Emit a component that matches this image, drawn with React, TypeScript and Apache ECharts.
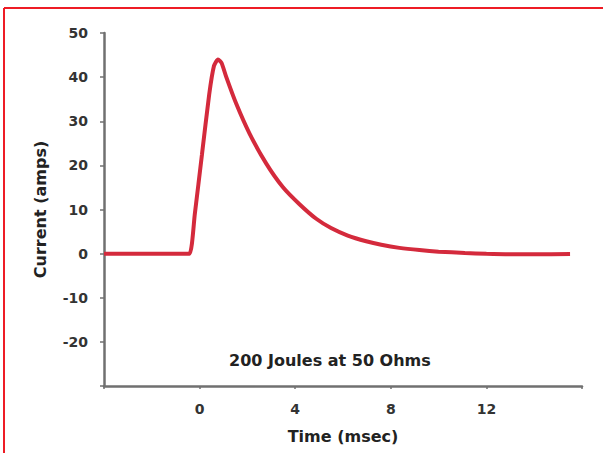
import React, { useEffect, useRef } from "react";
import * as echarts from "echarts";

const timeMs: number[] = [-4, -1.5, -0.8, -0.42, -0.2, 0.1, 0.4, 0.6, 0.77, 0.92, 1.11, 1.53, 2.09, 2.79, 3.48, 4.18, 4.88, 5.5, 6.2, 6.97, 7.6, 8.36, 9.2, 10, 11.1, 12, 13, 14, 15.5];
const currentAmps: number[] = [0, 0, 0, 0, 9, 22.5, 36, 42.5, 44, 43.2, 40.1, 34, 27.2, 20.4, 15.1, 11.2, 7.9, 5.8, 4.1, 2.8, 2.0, 1.3, 0.8, 0.45, 0.15, -0.05, -0.15, -0.15, -0.1];
const xHiddenLabels: number[] = [-4, 16];
const yHiddenLabels: number[] = [-30];
const annotation = "200 Joules at 50 Ohms";
const xName = "Time (msec)";
const yName = "Current (amps)";

export default function App() {
  const ref = useRef<HTMLDivElement>(null);
  useEffect(() => {
    document.body.style.margin = "0";
    if (!ref.current) return;
    const chart = echarts.init(ref.current, null, { renderer: "svg" });
    const font = "'DejaVu Sans', sans-serif";
    const axisColor = "#707070";
    chart.setOption({
      animation: false,
      backgroundColor: "#ffffff",
      grid: { left: 104, right: 21, top: 33, bottom: 67 },
      xAxis: {
        type: "value",
        min: -4,
        max: 16,
        interval: 4,
        name: xName,
        nameLocation: "middle",
        nameGap: 42,
        nameTextStyle: { fontFamily: font, fontWeight: "bold", fontSize: 16, color: "#222" },
        axisLine: { onZero: false, lineStyle: { color: axisColor, width: 2.5 } },
        axisTick: { show: true, length: 3, lineStyle: { color: axisColor, width: 1.5 } },
        splitLine: { show: false },
        axisLabel: {
          fontFamily: font,
          fontWeight: "bold",
          fontSize: 14,
          color: "#333",
          margin: 16,
          formatter: (v: number) => (xHiddenLabels.includes(v) ? "" : String(v)),
        },
      },
      yAxis: {
        type: "value",
        min: -30,
        max: 50,
        interval: 10,
        name: yName,
        nameLocation: "middle",
        nameGap: 56,
        nameTextStyle: { fontFamily: font, fontWeight: "bold", fontSize: 16, color: "#222" },
        axisLine: { show: true, onZero: false, lineStyle: { color: axisColor, width: 2.5 } },
        axisTick: { show: true, length: 4, lineStyle: { color: axisColor, width: 1.5 } },
        splitLine: { show: false },
        axisLabel: {
          fontFamily: font,
          fontWeight: "bold",
          fontSize: 14,
          color: "#333",
          margin: 16,
          formatter: (v: number) => (yHiddenLabels.includes(v) ? "" : String(v)),
        },
      },
      series: [
        {
          type: "line",
          data: timeMs.map((t, i) => [t, currentAmps[i]]),
          showSymbol: false,
          smooth: 0.2,
          lineStyle: { color: "#d42a3c", width: 4 },
          itemStyle: { color: "#d42a3c" },
        },
      ],
      graphic: [
        {
          type: "text",
          left: 229,
          top: 352,
          style: { text: annotation, font: `bold 16px ${font}`, fill: "#222" },
        },
        { type: "line", shape: { x1: 4, y1: 8, x2: 603, y2: 8 }, style: { stroke: "#ee1c25", lineWidth: 2 } },
        { type: "line", shape: { x1: 4, y1: 8, x2: 4, y2: 453 }, style: { stroke: "#ee1c25", lineWidth: 2 } },
      ],
    });
    return () => chart.dispose();
  }, []);
  return <div ref={ref} style={{ width: 603, height: 453 }} />;
}
